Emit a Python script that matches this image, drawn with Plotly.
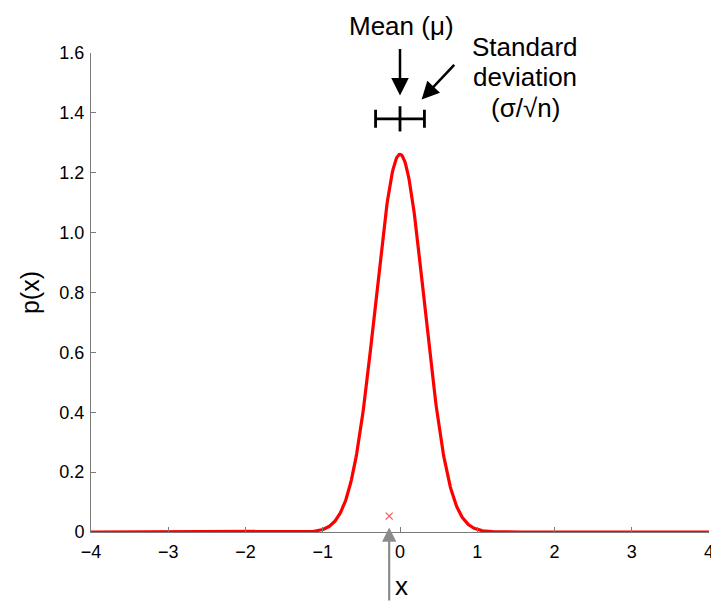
import numpy as np
import plotly.graph_objects as go

# Sampling distribution of the mean: N(mu, sigma/sqrt(n))
mu = 0.0
sigma = 1.0
n = 10
se = sigma / np.sqrt(n)

# observed sample value
x_obs = [-0.14]
y_obs_marker = [0.053]

# error bar showing mean +/- standard deviation above the peak
bar_y = [1.38]

x_ticks = [-4, -3, -2, -1, 0, 1, 2, 3, 4]
x_tick_text = ["\u22124", "\u22123", "\u22122", "\u22121", "0", "1", "2", "3", "4"]
y_ticks = [0, 0.2, 0.4, 0.6, 0.8, 1.0, 1.2, 1.4, 1.6]
y_tick_text = ["0", "0.2", "0.4", "0.6", "0.8", "1.0", "1.2", "1.4", "1.6"]

xs = np.linspace(-4, 4, 801)
pdf = np.exp(-0.5 * ((xs - mu) / se) ** 2) / (se * np.sqrt(2 * np.pi))

FONT = "Liberation Sans, Arial, Helvetica, sans-serif"
AXIS_GRAY = "#7a7a7a"
TXT = dict(family=FONT, size=26, color="black")

# plot area in pixels (used to place text outside the axes in paper units)
PLOT_TOP, PLOT_BOTTOM = 53, 532.5
PLOT_H = PLOT_BOTTOM - PLOT_TOP


def paper_y(px):
    return (PLOT_BOTTOM - px) / PLOT_H


fig = go.Figure()

fig.add_trace(go.Scatter(
    x=xs, y=pdf, mode="lines",
    line=dict(color="#ff0000", width=3.2),
    hoverinfo="skip", showlegend=False, cliponaxis=False,
))

fig.add_trace(go.Scatter(
    x=x_obs, y=y_obs_marker, mode="markers",
    marker=dict(symbol="x-thin", size=7, line=dict(color="#ff5050", width=1.2)),
    showlegend=False,
))

fig.add_trace(go.Scatter(
    x=[mu], y=bar_y, mode="markers",
    marker=dict(symbol="line-ns", size=18, line=dict(color="black", width=2.8)),
    error_x=dict(type="constant", value=se, color="black", thickness=2.8, width=9),
    showlegend=False, cliponaxis=False,
))

# arrow to the mean
fig.add_annotation(x=mu, y=1.458, xref="x", yref="y", ax=0, ay=-48,
                   showarrow=True, arrowhead=2, arrowsize=1.4, arrowwidth=2.5,
                   arrowcolor="black", text="")
fig.add_annotation(x=0.02, y=paper_y(26), xref="x", yref="paper", text="Mean (\u03bc)",
                   xanchor="center", yanchor="middle", showarrow=False, font=TXT)

# arrow to the standard deviation
fig.add_annotation(x=0.28, y=1.445, xref="x", yref="y", ax=34, ay=-36,
                   showarrow=True, arrowhead=2, arrowsize=1.4, arrowwidth=2.5,
                   arrowcolor="black", text="")
sd_lines = ["Standard", "deviation", "(\u03c3/\u221an)"]
sd_line_px = [47, 77, 108]
for line, py in zip(sd_lines, sd_line_px):
    fig.add_annotation(x=1.62, y=paper_y(py), xref="x", yref="paper",
                       xanchor="center", yanchor="middle",
                       text=line, showarrow=False, font=TXT)

# arrow marking the observed x on the axis
fig.add_annotation(x=x_obs[0], y=0.015, xref="x", yref="y", ax=0, ay=78,
                   showarrow=True, arrowhead=2, arrowsize=1.3, arrowwidth=2.2,
                   arrowcolor="#8c8c8c", text="")
fig.add_annotation(x=0.02, y=paper_y(587), xref="x", yref="paper", text="x",
                   xanchor="center", yanchor="middle", showarrow=False, font=TXT)

fig.update_xaxes(
    range=[-4, 4], tickvals=x_ticks, ticktext=x_tick_text, ticks="inside", ticklen=5,
    tickcolor=AXIS_GRAY, showline=True, linecolor=AXIS_GRAY, linewidth=1,
    showgrid=False, zeroline=False, mirror=False, ticklabeloverflow="allow",
    automargin=False, ticklabelstandoff=3,
    tickfont=dict(family=FONT, size=18, color="black"),
)
fig.update_yaxes(
    range=[0, 1.6], tickvals=y_ticks, ticktext=y_tick_text, ticks="inside", ticklen=5,
    tickcolor=AXIS_GRAY, showline=True, linecolor=AXIS_GRAY, linewidth=1,
    showgrid=False, zeroline=False, mirror=False, ticklabeloverflow="allow",
    automargin=False, ticklabelstandoff=2,
    tickfont=dict(family=FONT, size=18, color="black"),
    title=dict(text="p(x)", font=dict(family=FONT, size=25, color="black"), standoff=12),
)

fig.update_layout(
    width=711, height=602,
    margin=dict(l=91, r=2, t=53, b=70),
    plot_bgcolor="white", paper_bgcolor="white",
    showlegend=False,
)

fig.write_html("out.html")
